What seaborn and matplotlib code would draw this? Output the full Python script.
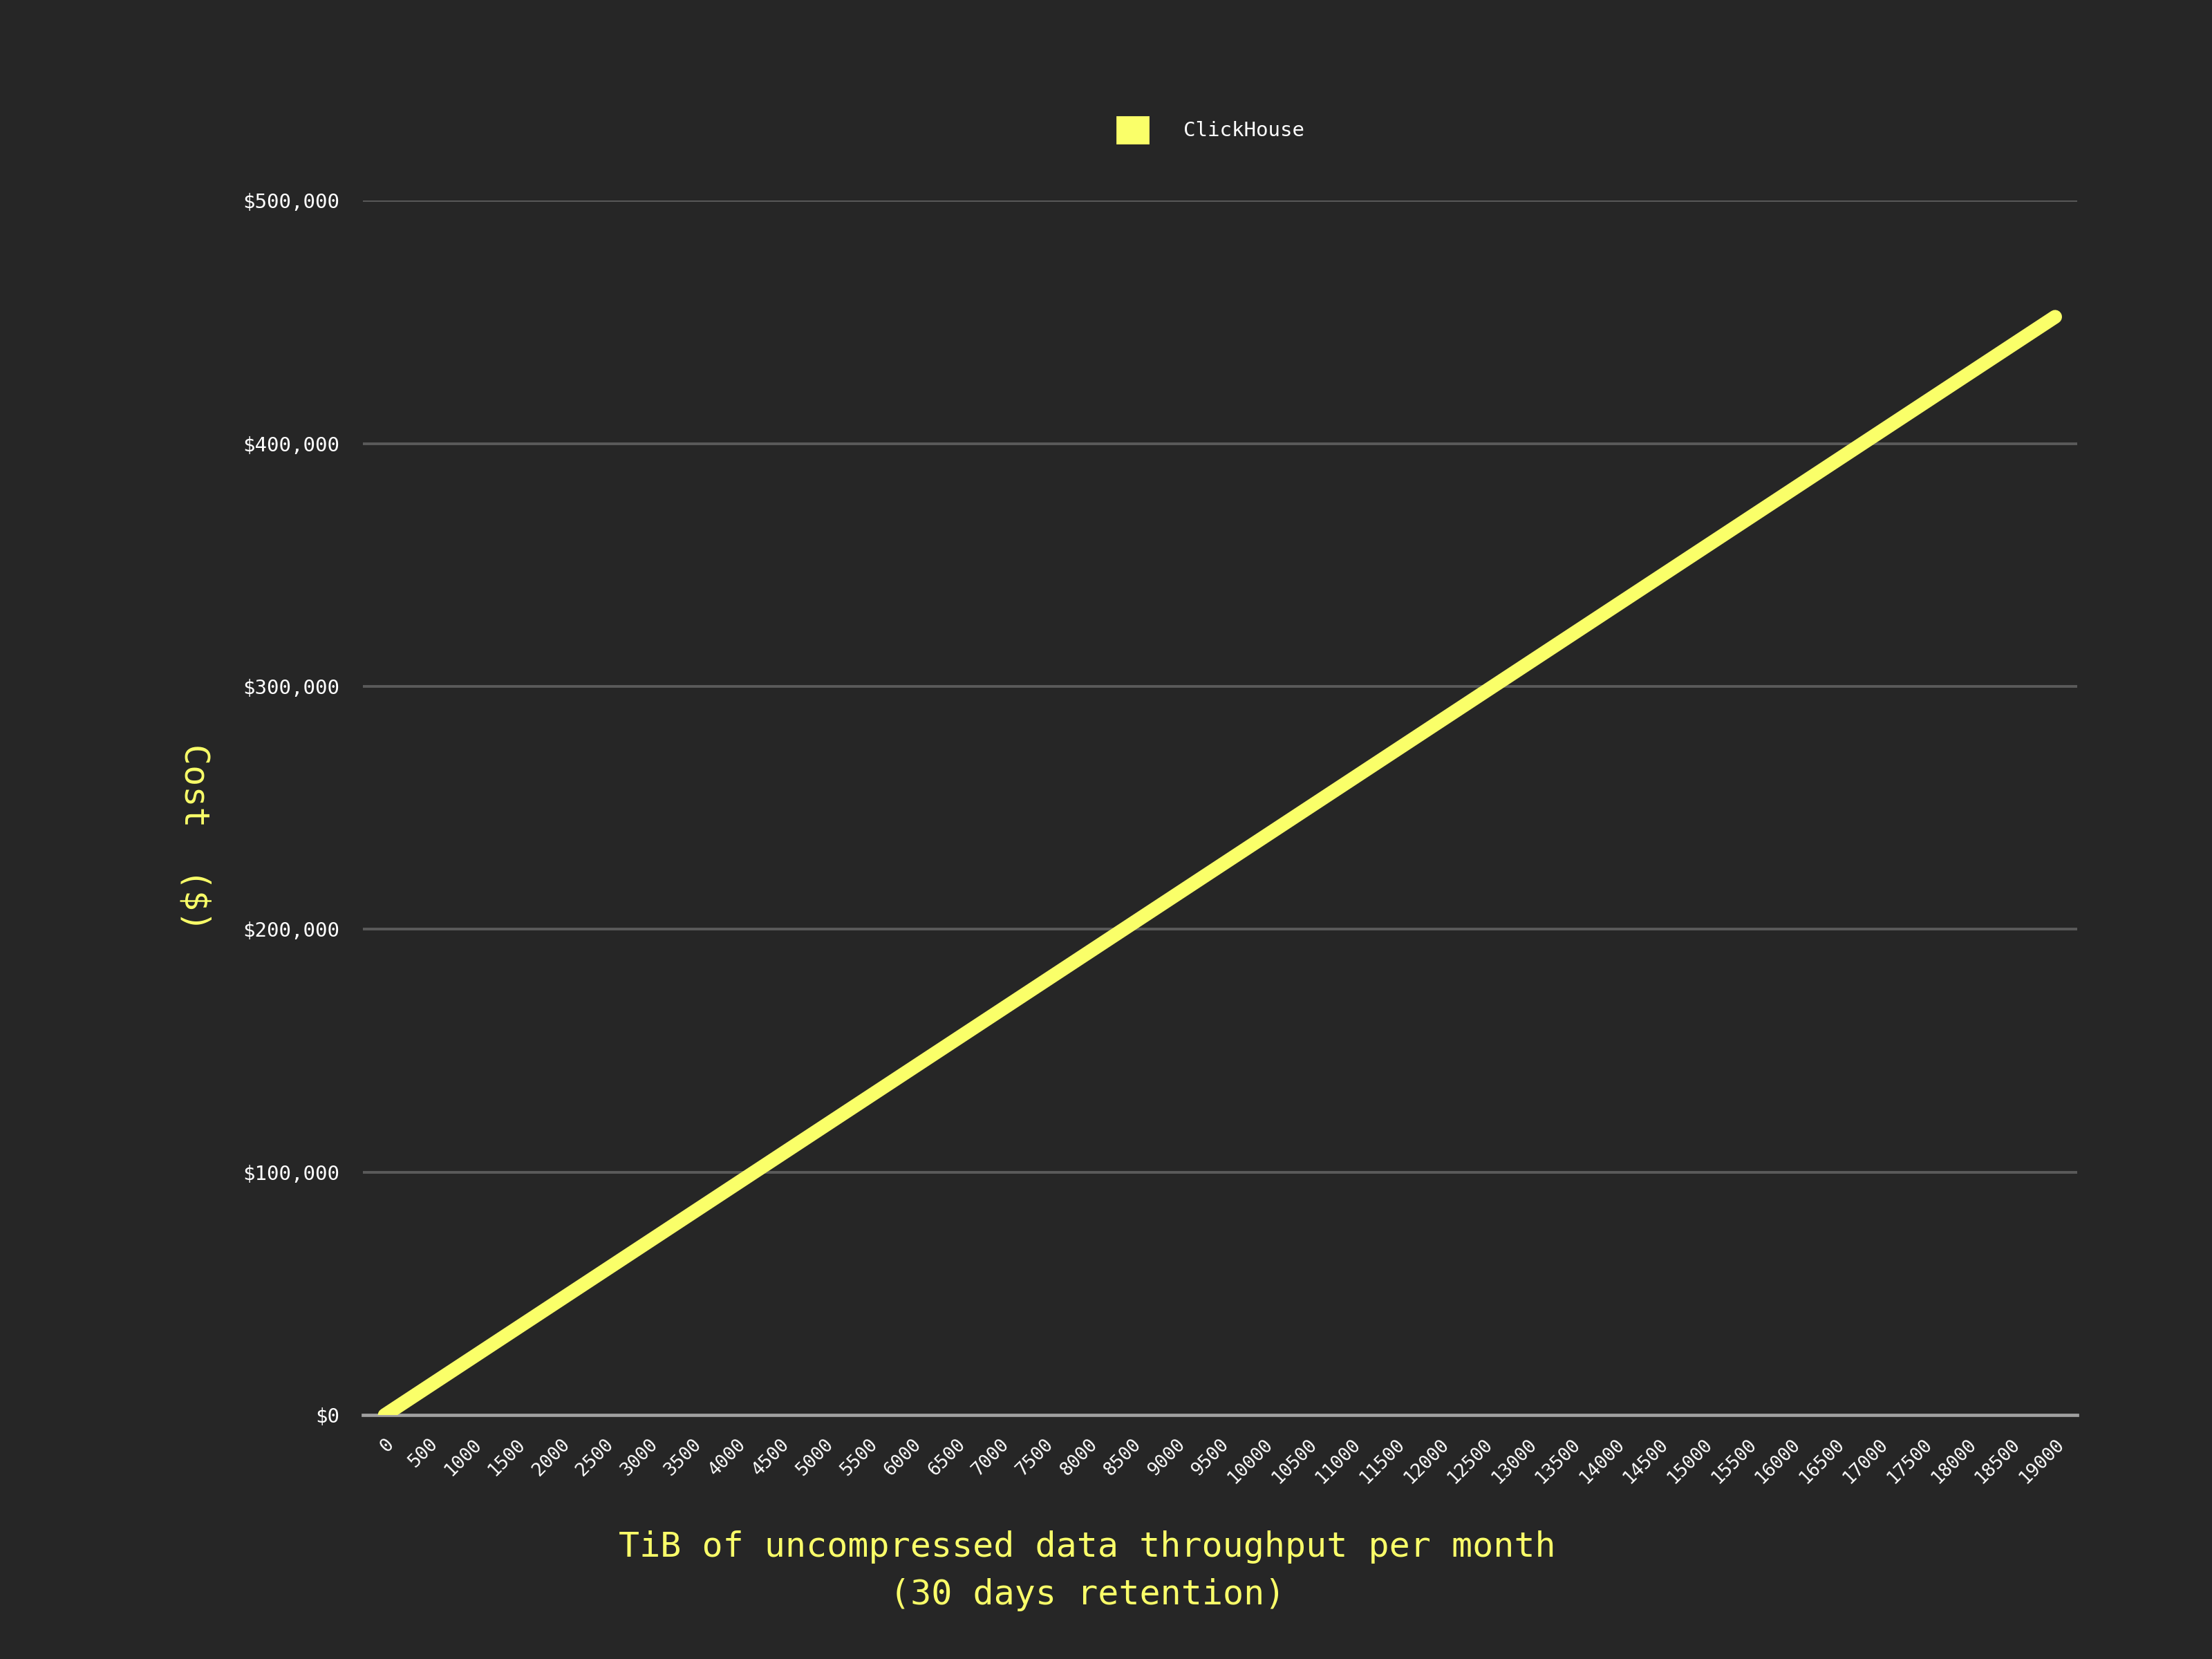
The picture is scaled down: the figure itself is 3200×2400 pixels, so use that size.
import matplotlib
matplotlib.use("Agg")
import matplotlib.pyplot as plt
import seaborn as sns
import pandas as pd
from matplotlib.patches import Patch
from matplotlib.ticker import FuncFormatter

# ---- data ----
tib = [0, 500, 1000, 1500, 2000, 2500, 3000, 3500, 4000, 4500, 5000, 5500, 6000,
       6500, 7000, 7500, 8000, 8500, 9000, 9500, 10000, 10500, 11000, 11500, 12000,
       12500, 13000, 13500, 14000, 14500, 15000, 15500, 16000, 16500, 17000, 17500,
       18000, 18500, 19000]
clickhouse_cost = [0, 11900, 23800, 35700, 47600, 59500, 71400, 83300, 95200, 107100,
                   119000, 130900, 142800, 154700, 166600, 178500, 190400, 202300,
                   214200, 226100, 238000, 249900, 261800, 273700, 285600, 297500,
                   309400, 321300, 333200, 345100, 357000, 368900, 380800, 392700,
                   404600, 416500, 428400, 440300, 452200]
y_ticks = [0, 100000, 200000, 300000, 400000, 500000]
series_name = "ClickHouse"
x_label = "TiB of uncompressed data throughput per month\n(30 days retention)"
y_label = "Cost  ($)"

BG = "#262626"
YELLOW = "#FAFF69"
MONO = "DejaVu Sans Mono"

sns.set_theme(style="dark")
plt.rcParams["font.family"] = [MONO, "DejaVu Sans"]

df = pd.DataFrame({"tib": tib, "cost": clickhouse_cost})

fig = plt.figure(figsize=(16, 12), dpi=200, facecolor=BG)
ax = fig.add_axes([0.164, 0.147, 0.775, 0.732])
ax.set_facecolor(BG)

sns.lineplot(data=df, x="tib", y="cost", ax=ax, color=YELLOW, linewidth=7.2,
             solid_capstyle="round", legend=False, zorder=5)

ax.set_xlim(-250, 19250)
ax.set_ylim(0, 500000)
ax.set_yticks(y_ticks)
ax.yaxis.set_major_formatter(FuncFormatter(lambda v, p: "${:,.0f}".format(v)))
ax.set_xticks(tib)
ax.set_xticklabels([str(t) for t in tib], rotation=45, ha="right",
                   rotation_mode="anchor", va="top")

ax.tick_params(axis="both", length=0, colors="white")
ax.tick_params(axis="y", pad=12, labelsize=10.5)
ax.tick_params(axis="x", pad=10.5, labelsize=9.6)

ax.grid(False)
ax.yaxis.grid(True, color="#5a5a5a", linewidth=1.4)
ax.set_axisbelow(True)
for s in ["top", "right", "left"]:
    ax.spines[s].set_visible(False)
ax.spines["bottom"].set_color("#a0a0a0")
ax.spines["bottom"].set_linewidth(1.7)
ax.spines["bottom"].set_zorder(3)

ax.set_xlabel("")
ax.set_ylabel("")
fig.text(0.4915, 0.053, x_label, color=YELLOW, fontsize=18, ha="center",
         va="center", linespacing=1.55, family=[MONO, "DejaVu Sans"])
fig.text(0.088, 0.495, y_label, color=YELLOW, fontsize=18, ha="center",
         va="center", rotation=270, family=[MONO, "DejaVu Sans"])

handle = Patch(facecolor=YELLOW, edgecolor=YELLOW, label=series_name)
leg = fig.legend(handles=[handle], loc="center left", bbox_to_anchor=(0.505, 0.9217),
                 frameon=False, borderpad=0, borderaxespad=0, fontsize=10.5,
                 handlelength=1.55, handleheight=1.6, handletextpad=1.75)
for t in leg.get_texts():
    t.set_color("white")

fig.savefig("out.png", dpi=200, facecolor=BG)
